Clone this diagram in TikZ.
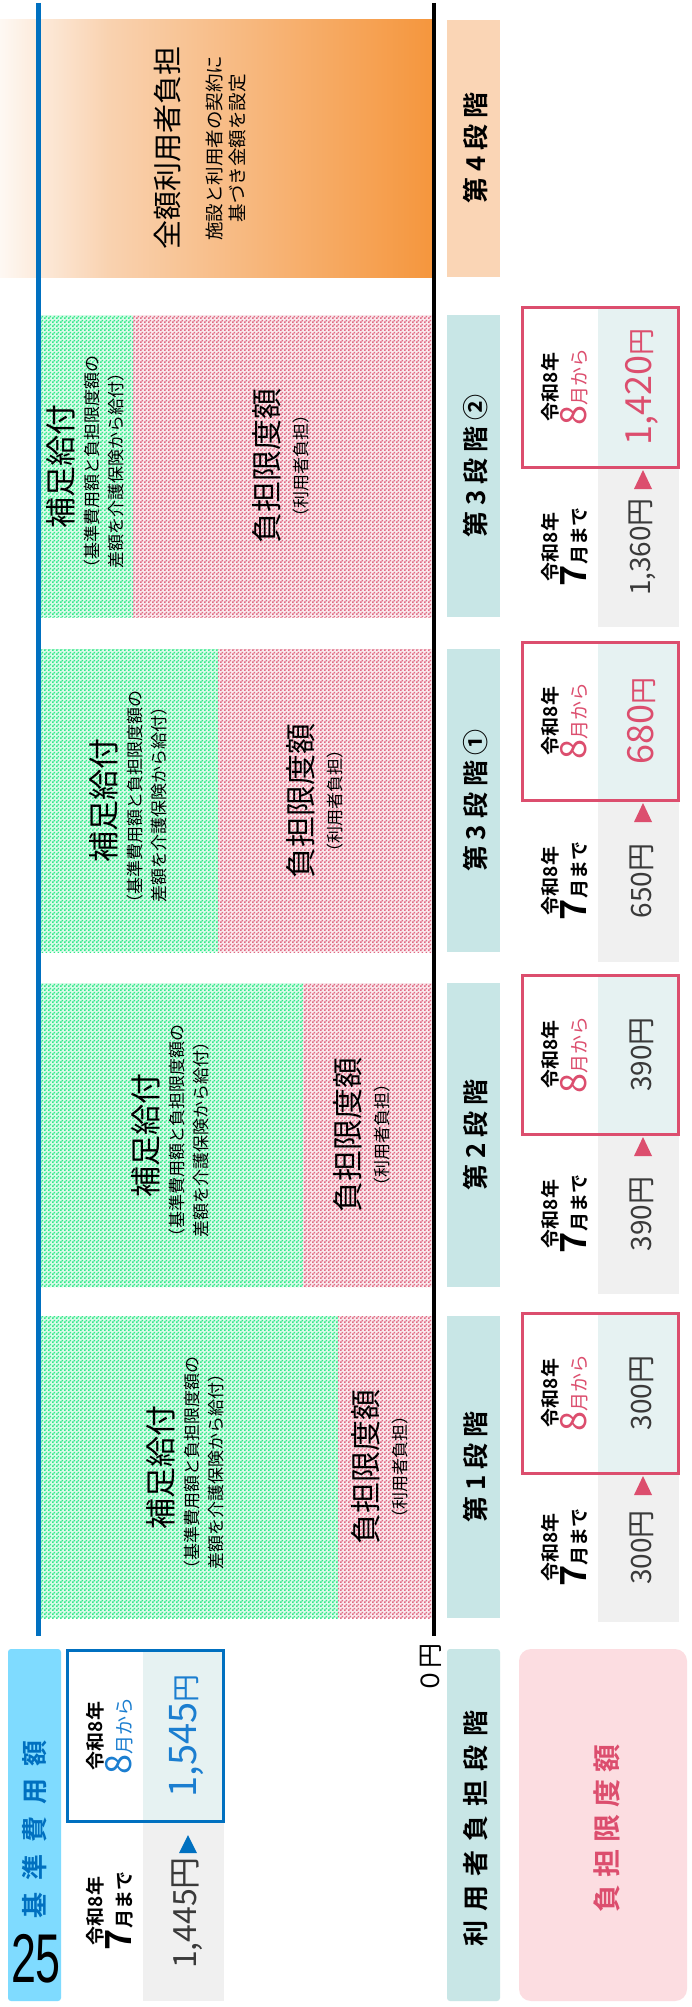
\documentclass[tikz,border=0pt]{standalone}
\usepackage{fontspec}
\usepackage{graphicx}
\setmainfont{Noto Sans CJK JP}[BoldFont={Noto Sans CJK JP Bold}]
\newfontfamily\numfont{Liberation Sans}
\usetikzlibrary{patterns}
\pgfdeclarepatternformonly{finecheck}{\pgfpointorigin}{\pgfqpoint{4pt}{4pt}}{\pgfqpoint{4pt}{4pt}}{%
  \pgfpathrectangle{\pgfpointorigin}{\pgfqpoint{2pt}{2pt}}%
  \pgfpathrectangle{\pgfqpoint{2pt}{2pt}}{\pgfqpoint{2pt}{2pt}}%
  \pgfusepath{fill}}
\definecolor{bline}{HTML}{0070C0}
\definecolor{grn}{HTML}{33E98A}
\definecolor{rdp}{HTML}{E06A84}
\definecolor{stagebg}{HTML}{C8E6E6}
\definecolor{peach}{HTML}{FAD5B5}
\definecolor{pinkc}{HTML}{DC4E6E}
\definecolor{cellc}{HTML}{E6F2F2}
\definecolor{grayc}{HTML}{F0F0F0}
\definecolor{valc}{HTML}{3A3A3A}
\definecolor{bluev}{HTML}{1B7ED0}
\definecolor{skyc}{HTML}{7FDBFF}
\definecolor{pinkbg}{HTML}{FCDDE1}
\definecolor{or0}{HTML}{FEF8F3}
\definecolor{or1}{HTML}{F9D2B0}
\definecolor{or2}{HTML}{F5963D}
\newcommand\fs[1]{\fontsize{#1}{#1}\selectfont}
\newcommand\gp[1]{\hspace{#1pt}}
% stage bar: #1 id, #2 y1, #3 y2, #4 split x, #5 green text x, #6 red text x, #7 label
\newcommand\barblk[7]{%
  \fill[grn!18!white] (41,#2) rectangle (#4,#3);
  \fill[rdp!15!white] (#4,#2) rectangle (432,#3);
  \fill[pattern=finecheck,pattern color=grn] (41,#2) rectangle (#4,#3);
  \fill[pattern=finecheck,pattern color=rdp] (#4,#2) rectangle (432,#3);
  \fill[stagebg] (447,#2) rectangle (500,#3);
  \node[rt,font=\bfseries\fs{26}] (#1lab) at (476,{(#2+#3)/2}) {#7};
  \node[rt,font=\fs{31}] (#1g) at (#5,{(#2+#3)/2}) {補足給付};
  \node[rt,font=\fs{17}] (#1ga) at ({#5+31},{(#2+#3)/2}) {（基準費用額と負担限度額の};
  \node[rt,font=\fs{17}] (#1gb) at ({#5+55},{(#2+#3)/2}) {差額を介護保険から給付）};
  \node[rt,font=\fs{31}] (#1r) at (#6,{(#2+#3)/2}) {負担限度額};
  \node[rt,font=\fs{17}] (#1ra) at ({#6+34},{(#2+#3)/2}) {（利用者負担）};
}
% value block: #1 id, #2 top, #3 box bottom, #4 gray bottom, #5 upper value, #6 lower value
\newcommand\stageblk[6]{%
  \fill[grayc] (598,#3) rectangle (679,#4);
  \fill[cellc] (598,#2) rectangle (678,#3);
  \draw[pinkc,line width=3pt] (522,#2) rectangle (678,#3);
  \node[rt,anchor=base,font=\bfseries\fs{19}] (#1ua) at (557,{(#2+#3)/2}) {令和8年};
  \node[rt,anchor=base,text=pinkc] (#1ub) at (586,{(#2+#3)/2}) {\fs{36}8\fs{19}月から};
  \node[rt] (#1uv) at (642,{(#2+#3)/2}) {#5};
  \fill[pinkc] (634,{#3+22}) -- (652,{#3+22}) -- (643,{#3+3}) -- cycle;
  \node[rt,anchor=base,font=\bfseries\fs{19}] (#1la) at (557,{(#3+#4)/2}) {令和8年};
  \node[rt,anchor=base,font=\bfseries] (#1lb) at (586,{(#3+#4)/2}) {\fs{36}7\fs{19}月まで};
  \node[rt,text=valc] (#1lv) at (642,{(#3+#4)/2}) {\fs{28}#6};
}
\begin{document}
\begin{tikzpicture}[x=1pt,y=-1pt,
  rt/.style={rotate=90,inner sep=0pt,outer sep=0pt}]
\useasboundingbox (0,0) rectangle (692,2007);
\fill[white] (0,0) rectangle (692,2007);

% stage 4
\shade[left color=or0,right color=or1] (0,20) rectangle (108,277);
\shade[left color=or1,right color=or2] (107.5,20) rectangle (433,277);
\fill[peach] (447,20) rectangle (500,277);
\node[rt,font=\bfseries\fs{26}] (s4lab) at (476,148) {第 4 段 階};
\node[rt,font=\fs{29}] (s4main) at (168,148) {全額利用者負担};
\node[rt,font=\fs{18.5}] (s4a) at (215,148) {施設と利用者の契約に};
\node[rt,font=\fs{18.5}] (s4b) at (238,148) {基づき金額を設定};

% stage bars
\barblk{sA}{315}{617}{133}{61}{267}{第 3 段 階 ②}
\barblk{sB}{649}{952}{218}{104}{301}{第 3 段 階 ①}
\barblk{sC}{983}{1287}{303}{146}{348}{第 2 段 階}
\barblk{sD}{1316}{1618}{338}{161}{366}{第 1 段 階}

% axis lines
\coordinate (btop) at (38,3);
\coordinate (bbot) at (38,1636);
\coordinate (ktop) at (434,3);
\coordinate (kbot) at (434,1636);
\draw[bline,line width=5pt] (btop) -- (bbot);
\draw[black,line width=3.5pt] (ktop) -- (kbot);
\node[rt,font=\fs{25}] (zero) at (431,1668) {０円};

% value blocks
\stageblk{vA}{307}{467}{627}{\textcolor{pinkc}{\fs{36}1,420\fs{27}円}}{1,360円}
\stageblk{vB}{642}{800}{962}{\textcolor{pinkc}{\fs{36}680\fs{27}円}}{650円}
\stageblk{vC}{975}{1134}{1294}{\textcolor{valc}{\fs{28}390円}}{390円}
\stageblk{vD}{1313}{1473}{1622}{\textcolor{valc}{\fs{28}300円}}{300円}

% bottom-left legend
\fill[skyc,rounded corners=3pt] (8,1649) rectangle (61,2001);
\node[rt,font=\bfseries\fs{26},text=bline] (kijun) at (35,1829) {基\gp{12}準\gp{12}費\gp{12}用\gp{12}額};
\node[anchor=base,inner sep=0pt] (num) at (36,1982) {\numfont\fs{69}\scalebox{0.65}[1]{25}};

\fill[grayc] (143,1821) rectangle (224,2001);
\fill[cellc] (143,1650) rectangle (223,1821);
\draw[bline,line width=3pt] (67,1650) rectangle (223,1821);
\node[rt,anchor=base,font=\bfseries\fs{19}] (bua) at (102,1736) {令和8年};
\node[rt,anchor=base,text=bluev] (bub) at (131,1736) {\fs{36}8\fs{19}月から};
\node[rt,text=bluev] (buv) at (187,1736) {\fs{38}1,545\fs{28}円};
\fill[bline] (179,1853) -- (197,1853) -- (188,1835) -- cycle;
\node[rt,anchor=base,font=\bfseries\fs{19}] (bla) at (102,1911) {令和8年};
\node[rt,anchor=base,font=\bfseries] (blb) at (131,1911) {\fs{36}7\fs{19}月まで};
\node[rt,text=valc] (blv) at (187,1913) {\fs{32}1,445円};

\fill[stagebg,rounded corners=3pt] (447,1649) rectangle (500,2001);
\node[rt,font=\bfseries\fs{26}] (rlab) at (476,1828) {利\gp{9}用\gp{9}者\gp{9}負\gp{9}担\gp{9}段\gp{9}階};
\fill[pinkbg,rounded corners=12pt] (519,1649) rectangle (687,2001);
\node[rt,font=\bfseries\fs{28},text=pinkc] (plab) at (607,1828) {負\gp{7}担\gp{7}限\gp{7}度\gp{7}額};
\end{tikzpicture}
\end{document}
